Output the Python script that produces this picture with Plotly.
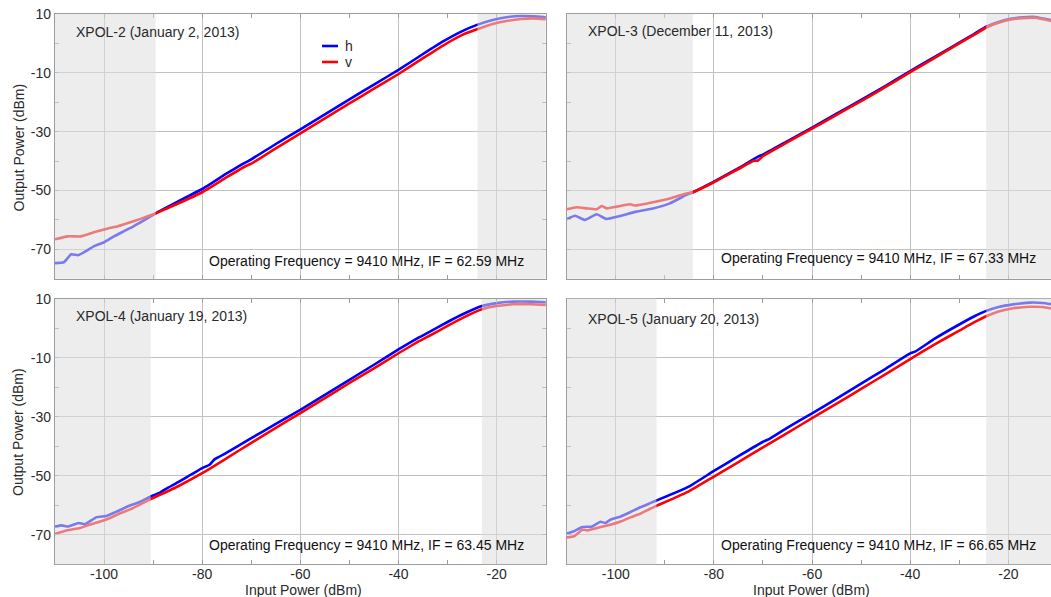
import plotly.graph_objects as go

# ---------------- data ----------------
# XPOL-2 (January 2, 2013)
XPOL2_H_X = [-110, -108.2, -106.7, -105.3, -104.1, -102.1, -100, -98, -96, -94, -91.9, -89.5,
             -85, -80, -75, -72, -70, -65, -60, -55, -50, -45, -40, -35, -31, -27, -24,
             -21, -18, -15, -12.5, -10]
XPOL2_H_Y = [-74.7, -74.4, -71.7, -72.0, -71.0, -69.0, -67.6, -65.6, -63.9, -62.2, -60.2, -57.8,
             -53.8, -49.5, -44.2, -41.2, -39.4, -34.2, -29.2, -24.1, -19.0, -14.0, -9.0, -3.6, 0.6,
             4.2, 6.3, 7.9, 8.9, 9.3, 9.2, 8.9]
XPOL2_V_X = [-110, -107.4, -104.7, -102.1, -99.2, -97.2, -94, -91.1, -89.5, -85, -80, -75, -71,
             -70, -65, -60, -55, -50, -45, -40, -35, -31, -27, -24, -21, -18, -15, -12.5, -10]
XPOL2_V_Y = [-66.6, -65.6, -65.6, -64.2, -62.9, -62.2, -60.5, -58.8, -57.8, -54.5, -50.6, -45.5,
             -41.6, -40.9, -35.7, -30.6, -25.5, -20.4, -15.4, -10.4, -5.0, -0.8, 2.9, 4.8, 6.5,
             7.6, 8.3, 8.5, 8.2]

# XPOL-3 (December 11, 2013)
XPOL3_H_X = [-110, -108.3, -106.3, -103.9, -101.9, -99.2, -95.8, -92.4, -89, -85.6, -84.3, -80,
             -75, -71, -70, -65, -60, -55, -50, -45, -40, -35, -30, -27, -24.5, -22, -19.5,
             -17, -14.5, -11.3]
XPOL3_H_Y = [-59.8, -58.6, -60.0, -58.1, -59.7, -58.7, -57.2, -56.1, -54.4, -51.5, -50.6, -47.0,
             -42.4, -38.5, -37.8, -33.2, -28.6, -23.9, -19.2, -14.4, -9.4, -4.6, 0.3, 3.2, 5.7,
             7.3, 8.4, 8.9, 9.0, 7.9]
XPOL3_V_X = [-110, -108, -105.9, -103.9, -102.9, -101.8, -99.8, -97.1, -96, -94.4, -92.4, -89,
             -85.6, -84.3, -80, -75, -72, -71, -70, -65, -60, -55, -50, -45, -40, -35, -30,
             -27, -24.5, -22, -19.5, -17, -14.5, -11.3]
XPOL3_V_Y = [-56.4, -55.7, -56.1, -56.4, -55.3, -56.1, -55.5, -54.7, -55.1, -54.7, -54.0, -52.7,
             -51.0, -50.6, -47.2, -42.7, -40.0, -39.8, -38.3, -33.6, -29.0, -24.3, -19.6, -14.8,
             -9.8, -4.9, 0.0, 2.9, 5.4, 7.0, 8.1, 8.6, 8.7, 7.6]

# XPOL-4 (January 19, 2013)
XPOL4_H_X = [-110, -108.6, -107.3, -105.2, -103.9, -101.5, -99.5, -97.4, -95.2, -92.5, -90.5,
             -88.5, -87.5, -85, -80, -78.5, -77.5, -75, -70, -65, -60, -55, -50, -45, -40, -36,
             -33.5, -30, -26.8, -23, -20, -16.7, -13, -10]
XPOL4_H_Y = [-67.2, -66.8, -67.2, -66.0, -66.4, -64.0, -63.6, -62.1, -60.4, -58.7, -57.0, -55.6,
             -54.5, -52.2, -47.4, -46.2, -44.4, -42.1, -37.2, -32.4, -27.6, -22.5, -17.4, -12.3,
             -7.1, -3.2, -1.0, 2.2, 4.9, 7.6, 8.6, 9.1, 9.1, 8.9]
XPOL4_V_X = [-110, -107.6, -104.9, -103.6, -100.8, -98.8, -96.6, -94.6, -92.5, -90.5, -85, -80,
             -75, -70, -65, -60, -55, -50, -45, -40, -36, -33.5, -30, -26.8, -23, -20, -16.7,
             -13, -10]
XPOL4_V_Y = [-69.7, -68.5, -67.7, -66.9, -65.5, -64.3, -62.6, -61.3, -59.6, -57.9, -53.6, -49.1,
             -44.0, -38.8, -33.7, -28.7, -23.6, -18.5, -13.5, -8.4, -4.5, -2.3, 0.9, 3.7, 6.5,
             7.6, 8.2, 8.2, 8.0]

# XPOL-5 (January 20, 2013)
XPOL5_H_X = [-110, -108.5, -106.8, -104.8, -103.1, -102.1, -101.1, -99.0, -97.0, -95.0, -93.0,
             -91.7, -85, -80, -75, -70, -69, -65, -60, -55, -50, -45, -40, -39, -35, -30, -27,
             -24.5, -22, -19, -15.6, -13, -11.3]
XPOL5_H_Y = [-69.6, -68.8, -67.4, -67.2, -65.6, -66.0, -64.9, -63.8, -62.3, -60.7, -59.3, -58.4,
             -53.6, -48.4, -43.4, -38.5, -37.8, -33.7, -28.9, -23.9, -18.8, -13.8, -8.6, -8.0,
             -3.6, 1.2, 3.9, 5.8, 7.1, 8.0, 8.6, 8.5, 8.1]
XPOL5_V_X = [-110, -108.5, -106.8, -105.8, -103.8, -101.1, -99.0, -97.0, -95.0, -93.0, -91.7, -85,
             -80, -75, -70, -65, -60, -55, -50, -45, -40, -35, -30, -27, -24.5, -22, -19, -15.6,
             -13, -11.3]
XPOL5_V_Y = [-70.9, -70.5, -68.3, -68.5, -67.7, -66.6, -65.5, -64.1, -62.9, -61.2, -60.2, -55.2,
             -50.3, -45.4, -40.4, -35.5, -30.5, -25.6, -20.6, -15.6, -10.5, -5.5, -0.9, 1.9, 4.0,
             5.6, 6.7, 7.2, 7.1, 6.6]

PANEL_TITLES = ["XPOL-2 (January 2, 2013)", "XPOL-3 (December 11, 2013)",
                "XPOL-4 (January 19, 2013)", "XPOL-5 (January 20, 2013)"]
PANEL_IF = ["62.59", "67.33", "63.45", "66.65"]
# shaded (excluded) input-power regions per panel: [left end, right start]
SHADE_LEFT_END = [-89.5, -84.3, -90.5, -91.7]
SHADE_RIGHT_START = [-23.9, -24.5, -23.0, -24.5]

SERIES_NAMES = ["h", "v"]
SERIES_COLORS = ["#0000ff", "#ff0000"]

X_TICKS = [-100, -80, -60, -40, -20]
X_TICK_TEXT = ["-100", "-80", "-60", "-40", "-20"]
X_MINOR = [-90, -70, -50, -30]
Y_TICKS = [10, -10, -30, -50, -70]
Y_TICK_TEXT = ["10", "-10", "-30", "-50", "-70"]
Y_MINOR = [0, -20, -40, -60]

# ---------------- layout geometry ----------------
W, H = 1051, 597
PX_PER_UNIT = 4.907


def xd(a, b):
    return [a / W, min(b / W, 1.0)]


def yd(top, bottom):
    return [(H - bottom) / H, (H - top) / H]


panels = [
    dict(hx=XPOL2_H_X, hy=XPOL2_H_Y, vx=XPOL2_V_X, vy=XPOL2_V_Y,
         xdom=xd(55, 545.7), ydom=yd(14, 278.7), right=False, bottom=False, ty=4.0, oy=-74.0),
    dict(hx=XPOL3_H_X, hy=XPOL3_H_Y, vx=XPOL3_V_X, vy=XPOL3_V_Y,
         xdom=xd(566.7, 1051), ydom=yd(14, 278.7), right=True, bottom=False, ty=4.2, oy=-73.0),
    dict(hx=XPOL4_H_X, hy=XPOL4_H_Y, vx=XPOL4_V_X, vy=XPOL4_V_Y,
         xdom=xd(55, 545.7), ydom=yd(299, 564.3), right=False, bottom=True, ty=4.2, oy=-73.4),
    dict(hx=XPOL5_H_X, hy=XPOL5_H_Y, vx=XPOL5_V_X, vy=XPOL5_V_Y,
         xdom=xd(566.7, 1051), ydom=yd(298.5, 564.3), right=True, bottom=True, ty=2.9, oy=-73.3),
]

FONT = "Liberation Sans, Arial, Helvetica, sans-serif"
GRID = "#c2c2c2"
LINE = "#9c9c9c"
TXT = "#2a2a2a"

fig = go.Figure()
shapes = []
annotations = []
layout_axes = {}

for i, p in enumerate(panels):
    n = i + 1
    xa = "x" if n == 1 else f"x{n}"
    ya = "y" if n == 1 else f"y{n}"
    xname = "xaxis" if n == 1 else f"xaxis{n}"
    yname = "yaxis" if n == 1 else f"yaxis{n}"

    x_end = -110 + (p["xdom"][1] - p["xdom"][0]) * W / PX_PER_UNIT

    for k, (sx, sy) in enumerate([(p["hx"], p["hy"]), (p["vx"], p["vy"])]):
        fig.add_trace(go.Scatter(
            x=sx, y=sy, mode="lines", name=SERIES_NAMES[k], showlegend=False,
            line=dict(color=SERIES_COLORS[k], width=2.6, shape="spline", smoothing=0.4),
            xaxis=xa, yaxis=ya, hoverinfo="skip"))

    layout_axes[xname] = dict(
        domain=p["xdom"], range=[-110, x_end], anchor=ya, automargin=False,
        tickmode="array", tickvals=X_TICKS, ticktext=X_TICK_TEXT,
        showticklabels=p["bottom"], ticks="inside", ticklen=4, tickcolor=LINE,
        ticklabelstandoff=-3,
        showgrid=True, gridcolor=GRID, gridwidth=1.4,
        showline=True, linecolor=LINE, linewidth=1.2, mirror="allticks",
        minor=dict(tickvals=X_MINOR, ticks="inside", ticklen=4, tickcolor=LINE, showgrid=False),
        zeroline=False, tickfont=dict(family=FONT, size=14, color=TXT),
    )
    layout_axes[yname] = dict(
        domain=p["ydom"], range=[-80, 10], anchor=xa, automargin=False,
        tickmode="array", tickvals=Y_TICKS, ticktext=Y_TICK_TEXT,
        showticklabels=not p["right"], ticks="inside", ticklen=4, tickcolor=LINE,
        showgrid=True, gridcolor=GRID, gridwidth=1.4,
        showline=True, linecolor=LINE, linewidth=1.2,
        mirror=False if p["right"] else "allticks",
        minor=dict(tickvals=Y_MINOR, ticks="inside", ticklen=4, tickcolor=LINE, showgrid=False),
        zeroline=False, tickfont=dict(family=FONT, size=14, color=TXT),
    )

    # shaded regions (drawn above the traces, semi-transparent)
    for x0, x1 in [(-110, SHADE_LEFT_END[i]), (SHADE_RIGHT_START[i], x_end)]:
        shapes.append(dict(type="rect", xref=xa, yref=f"{ya} domain", x0=x0, x1=x1, y0=0, y1=1,
                           fillcolor="rgba(222,222,222,0.55)", line=dict(width=0), layer="above"))

    annotations.append(dict(xref=xa, yref=ya, x=-106.1, y=p["ty"], text=PANEL_TITLES[i],
                            showarrow=False, xanchor="left", yanchor="middle",
                            font=dict(family=FONT, size=14, color=TXT)))
    annotations.append(dict(xref=xa, yref=ya, x=-14.0, y=p["oy"],
                            text=f"Operating Frequency = 9410 MHz, IF = {PANEL_IF[i]} MHz",
                            showarrow=False, xanchor="right", yanchor="middle",
                            font=dict(family=FONT, size=14, color="#111111")))

# legend (h / v) inside the first panel
for k, ly in enumerate((46, 62)):
    shapes.append(dict(type="line", xref="paper", yref="paper",
                       x0=322 / W, x1=338 / W, y0=(H - ly) / H, y1=(H - ly) / H,
                       line=dict(color=SERIES_COLORS[k], width=2.6)))
    annotations.append(dict(xref="paper", yref="paper", x=343 / W, y=(H - ly) / H,
                            text=SERIES_NAMES[k], showarrow=False, xanchor="left",
                            yanchor="middle", font=dict(family=FONT, size=14, color=TXT)))

# axis titles
for yc in (147.5, 432):
    annotations.append(dict(xref="paper", yref="paper", x=18 / W, y=(H - yc) / H,
                            text="Output Power (dBm)", textangle=-90, showarrow=False,
                            xanchor="center", yanchor="middle",
                            font=dict(family=FONT, size=14, color=TXT)))
for xc in (303, 811):
    annotations.append(dict(xref="paper", yref="paper", x=xc / W, y=(H - 589.5) / H,
                            text="Input Power (dBm)", showarrow=False,
                            xanchor="center", yanchor="middle",
                            font=dict(family=FONT, size=14, color=TXT)))

fig.update_layout(
    width=W, height=H,
    margin=dict(l=0, r=0, t=0, b=0, autoexpand=False),
    paper_bgcolor="white", plot_bgcolor="white",
    showlegend=False,
    shapes=shapes, annotations=annotations,
    **layout_axes,
)

fig.write_html("out.html")
